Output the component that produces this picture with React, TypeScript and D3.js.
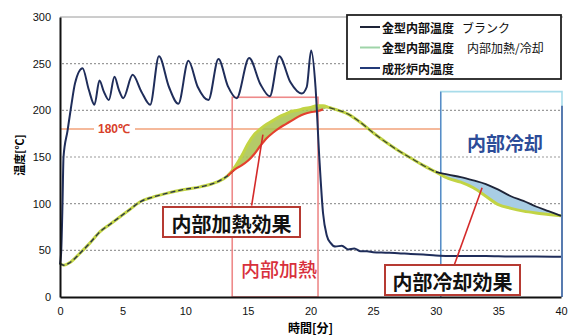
import React, { useEffect, useRef } from "react";
import * as d3 from "d3";

// furnace temperature (成形炉内温度)
const furnaceTime = [0, 0.1, 0.2, 0.28, 0.6, 0.9, 1.2, 1.8, 2.3, 2.75, 3.15, 3.5, 3.9, 4.35, 4.7, 5.05, 5.8, 6.5, 7.2, 7.9, 8.7, 9.45, 10.25, 11.0, 11.85, 12.65, 13.4, 14.1, 15.1, 16.0, 16.75, 17.5, 18.4, 19.3, 19.7, 20.05, 20.4, 20.7, 21.0, 21.3, 21.6, 22.0, 22.5, 23.0, 23.5, 24.0, 24.5, 25, 26, 27, 28, 29, 30, 31, 32, 34, 36, 38, 40];
const furnaceTemp = [35, 50, 100, 150, 178, 205, 229, 245, 222, 206, 232, 220, 211, 236, 222, 213, 238, 220, 206, 258, 225, 207, 253, 225, 211, 255, 226, 213, 256, 228, 215, 258, 230, 218, 225, 264, 225, 150, 90, 66, 58, 54, 55, 51, 52, 49, 49, 48, 47.5, 47, 46, 45.5, 44.5, 44, 44, 44, 43.5, 43.5, 43];

// mold internal temperature
const moldTime = [0, 0.3, 0.8, 1.6, 2.4, 3.2, 4.0, 4.8, 5.6, 6.4, 7.4, 8.5, 9.8, 11.2, 12.5, 13.4, 14.0, 14.5, 15.0, 15.5, 16.0, 16.5, 17.0, 17.5, 18.0, 18.5, 19.0, 19.5, 20.0, 20.5, 21.0, 21.5, 22, 23, 24, 25, 26, 27, 28, 29, 30, 31, 32, 33, 34, 35, 36, 37, 38, 39, 40];
const moldBlank = [36, 34, 37, 47, 58, 70, 78, 86, 94, 102, 107, 111, 115, 118, 123, 130, 137, 141, 146, 153, 162, 170, 176, 181, 185, 189, 193, 196, 198, 199, 201, 203, 201, 196, 187, 176, 166, 157, 149, 141, 134, 131, 128.5, 125, 121, 115, 108, 103, 97, 92, 87];
const moldHeated = [36, 34, 37, 47, 58, 70, 78, 86, 94, 102, 107, 111, 115, 118, 123, 130, 140, 151, 164, 174, 180, 185, 189, 193, 196, 199, 200, 202, 203, 205, 205, 203, 201, 196, 187, 176, 166, 157, 149, 141, 134, 127, 123, 117, 108, 99, 95, 92, 90, 88.5, 87];

const yTicks = [0, 50, 100, 150, 200, 250, 300];
const xTicks = [0, 5, 10, 15, 20, 25, 30, 35, 40];
const gridValues = [50, 100, 150, 200, 250];

const legendItems = [
    { color: "#1e2438", label: "金型内部温度", sub: "ブランク" },
    { color: "#9fd4a8", label: "金型内部温度", sub: "内部加熱/冷却" },
    { color: "#233a78", label: "成形炉内温度", sub: "" },
];

const jp = "'Noto Sans CJK JP', sans-serif";
const num = "'Liberation Sans', Arial, sans-serif";

const App: React.FC = () => {
    const svgRef = useRef<SVGSVGElement | null>(null);

    useEffect(() => {
        const svg = d3.select(svgRef.current);
        svg.selectAll("*").remove();

        const x = d3.scaleLinear().domain([0, 40]).range([60, 561]);
        const y = d3.scaleLinear().domain([0, 300]).range([297, 17]);

        const furnace = furnaceTime.map((t, i) => ({ t, v: furnaceTemp[i] }));
        const mold = moldTime.map((t, i) => ({ t, b: moldBlank[i], h: moldHeated[i] }));

        // frame + grid
        svg.append("line").attr("x1", 60).attr("x2", 563).attr("y1", y(300)).attr("y2", y(300))
            .attr("stroke", "#9a9a9a").attr("stroke-width", 1);
        gridValues.forEach((v) => {
            svg.append("line").attr("x1", 62).attr("x2", 561).attr("y1", y(v)).attr("y2", y(v))
                .attr("stroke", "#9a9a9a").attr("stroke-width", 1.2).attr("stroke-dasharray", "2,2");
        });

        // 180℃ line
        svg.append("line").attr("x1", 61).attr("x2", x(30.4)).attr("y1", y(180)).attr("y2", y(180))
            .attr("stroke", "#f2a27a").attr("stroke-width", 1.6);
        svg.append("rect").attr("x", 94).attr("y", y(180) - 7).attr("width", 41).attr("height", 14).attr("fill", "white");
        svg.append("text").attr("x", 114).attr("y", y(180)).text("180℃")
            .attr("text-anchor", "middle").attr("dominant-baseline", "central")
            .style("font-family", num).style("font-size", "12px").style("font-weight", "bold").attr("fill", "#d8402a");

        // region boxes
        svg.append("rect").attr("x", x(13.75)).attr("y", y(214)).attr("width", x(20.6) - x(13.75)).attr("height", y(0) - y(214))
            .attr("fill", "none").attr("stroke", "#ee8a8a").attr("stroke-width", 1.6);
        svg.append("path")
            .attr("d", `M${x(30.4)},${y(0)}V${y(220)}H${x(40) + 1}V${y(0)}`)
            .attr("fill", "none").attr("stroke", "#a8dcea").attr("stroke-width", 1.6);
        svg.append("line").attr("x1", x(30.4)).attr("x2", x(30.4)).attr("y1", y(220)).attr("y2", y(0))
            .attr("stroke", "#4a7cc0").attr("stroke-width", 1.2);
        svg.append("line").attr("x1", x(40) + 1).attr("x2", x(40) + 1).attr("y1", y(205)).attr("y2", y(0))
            .attr("stroke", "#2e4f96").attr("stroke-width", 1.4);

        // fills between curves
        const heatPart = mold.filter((d) => d.t >= 13.4 && d.t <= 21.5);
        const coolPart = mold.filter((d) => d.t >= 30);
        const band = d3.area<{ t: number; b: number; h: number }>()
            .x((d) => x(d.t)).y0((d) => y(d.b)).y1((d) => y(d.h)).curve(d3.curveMonotoneX);
        svg.append("path").datum(heatPart).attr("d", band).attr("fill", "#a7c24e").attr("opacity", 0.85);
        svg.append("path").datum(coolPart).attr("d", band).attr("fill", "#a8cde4");

        const lineOf = (key: "b" | "h") => d3.line<{ t: number; b: number; h: number }>()
            .x((d) => x(d.t)).y((d) => y(d[key])).curve(d3.curveMonotoneX);

        // heated mold temp
        svg.append("path").datum(mold).attr("d", lineOf("h"))
            .attr("fill", "none").attr("stroke", "#c2d444").attr("stroke-width", 3);
        // blank mold temp
        svg.append("path").datum(mold.filter((d) => d.t <= 14)).attr("d", lineOf("b"))
            .attr("fill", "none").attr("stroke", "#2a3448").attr("stroke-width", 1.4).attr("stroke-dasharray", "5,3");
        svg.append("path").datum(heatPart.filter((d) => d.t <= 21)).attr("d", lineOf("b"))
            .attr("fill", "none").attr("stroke", "#e4402e").attr("stroke-width", 2.2);
        svg.append("path").datum(mold.filter((d) => d.t >= 21.5 && d.t <= 30)).attr("d", lineOf("b"))
            .attr("fill", "none").attr("stroke", "#3a4630").attr("stroke-width", 1.2).attr("stroke-dasharray", "6,3");
        svg.append("path").datum(coolPart).attr("d", lineOf("b"))
            .attr("fill", "none").attr("stroke", "#1e2438").attr("stroke-width", 1.8);

        // furnace
        svg.append("path").datum(furnace)
            .attr("d", d3.line<{ t: number; v: number }>().x((d) => x(d.t)).y((d) => y(d.v)).curve(d3.curveMonotoneX))
            .attr("fill", "none").attr("stroke", "#1f2d5a").attr("stroke-width", 2);

        // axes
        const yAxis = svg.append("g").attr("transform", `translate(60,0)`)
            .call(d3.axisLeft(y).tickValues(yTicks).tickSize(0).tickPadding(9));
        yAxis.select(".domain").attr("stroke", "#111").attr("stroke-width", 2);
        yAxis.selectAll("text").style("font-family", num).style("font-size", "11px").attr("fill", "#111");

        const xAxis = svg.append("g").attr("transform", `translate(0,${y(0)})`)
            .call(d3.axisBottom(x).tickValues(xTicks).tickSize(0).tickPadding(10));
        xAxis.select(".domain").attr("stroke", "#111").attr("stroke-width", 2);
        xAxis.selectAll("text").style("font-family", num).style("font-size", "11px").attr("fill", "#111");

        svg.append("text").attr("transform", `translate(19,155) rotate(-90)`).text("温度[℃]")
            .attr("text-anchor", "middle").attr("dominant-baseline", "central")
            .style("font-family", jp).style("font-size", "11px").style("font-weight", "bold");
        svg.append("text").attr("x", x(20)).attr("y", 327).text("時間[分]")
            .attr("text-anchor", "middle").attr("dominant-baseline", "central")
            .style("font-family", jp).style("font-size", "12px").style("font-weight", "bold");

        // region labels
        svg.append("text").attr("x", 279).attr("y", 268).text("内部加熱")
            .attr("text-anchor", "middle").attr("dominant-baseline", "central")
            .style("font-family", jp).style("font-size", "19px").style("font-weight", "500").attr("fill", "#d8303c");
        svg.append("text").attr("x", 505).attr("y", 142).text("内部冷却")
            .attr("text-anchor", "middle").attr("dominant-baseline", "central")
            .style("font-family", jp).style("font-size", "19px").style("font-weight", "bold").attr("fill", "#2c4c98");

        // callouts
        const callouts = [
            { text: "内部加熱効果", from: [15.3, 98], to: [16.2, 174], box: [163, 207, 137, 30] },
            { text: "内部冷却効果", from: [31.5, 35], to: [33.7, 117], box: [385, 265, 135, 30] },
        ];
        callouts.forEach((c) => {
            svg.append("line").attr("x1", x(c.from[0])).attr("y1", y(c.from[1])).attr("x2", x(c.to[0])).attr("y2", y(c.to[1]))
                .attr("stroke", "#d42a2a").attr("stroke-width", 1.6);
            const [bx, by, bw, bh] = c.box;
            svg.append("rect").attr("x", bx).attr("y", by).attr("width", bw).attr("height", bh)
                .attr("fill", "white").attr("stroke", "#b63a32").attr("stroke-width", 2);
            svg.append("text").attr("x", bx + bw / 2).attr("y", by + bh / 2 + 1).text(c.text)
                .attr("text-anchor", "middle").attr("dominant-baseline", "central")
                .style("font-family", jp).style("font-size", "20px").style("font-weight", "bold").attr("fill", "#111");
        });

        // legend
        const lg = svg.append("g").attr("transform", "translate(347,15)");
        lg.append("rect").attr("width", 214).attr("height", 64).attr("fill", "white")
            .attr("stroke", "#222").attr("stroke-width", 1.8);
        legendItems.forEach((item, i) => {
            const cy = 12 + i * 20.5;
            lg.append("line").attr("x1", 13).attr("x2", 33).attr("y1", cy).attr("y2", cy)
                .attr("stroke", item.color).attr("stroke-width", 2);
            lg.append("text").attr("x", 35).attr("y", cy).text(item.label)
                .attr("dominant-baseline", "central")
                .style("font-family", jp).style("font-size", "12px").style("font-weight", "bold").attr("fill", "#111");
            if (item.sub) {
                lg.append("text").attr("x", i === 0 ? 115 : 120).attr("y", cy).text(item.sub)
                    .attr("dominant-baseline", "central")
                    .style("font-family", jp).style("font-size", "12px").attr("fill", "#111");
            }
        });
    }, []);

    return (
        <div>
            <svg ref={svgRef} width={572} height={336}
                style={{ position: "absolute", left: 0, top: 0, background: "white" }}></svg>
        </div>
    );
};

export default App;
